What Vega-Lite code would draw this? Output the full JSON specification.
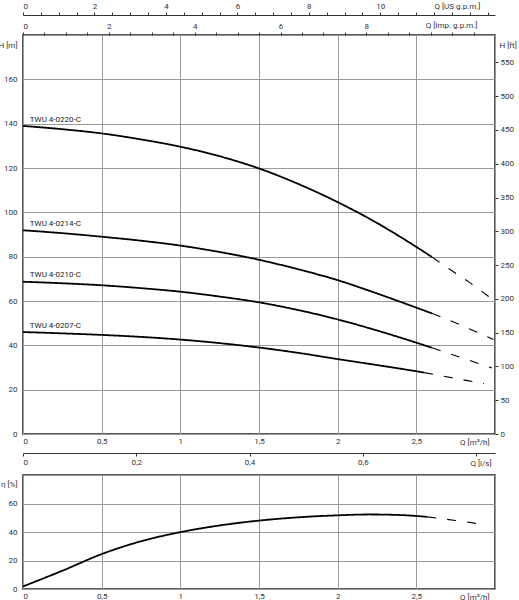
{
  "$schema": "https://vega.github.io/schema/vega-lite/v6.json",
  "description": "Pump curves TWU 4-02xx-C: head and efficiency against flow, with secondary unit axes.",
  "padding": {"left": -3, "top": 1, "right": 0, "bottom": 0},
  "spacing": 6,
  "datasets": {
    "head": [
      {"model": "TWU 4-0220-C", "part": "solid", "Q": 0, "H": 139.0},
      {"model": "TWU 4-0220-C", "part": "solid", "Q": 0.25, "H": 137.5},
      {"model": "TWU 4-0220-C", "part": "solid", "Q": 0.5, "H": 135.6},
      {"model": "TWU 4-0220-C", "part": "solid", "Q": 0.75, "H": 132.9},
      {"model": "TWU 4-0220-C", "part": "solid", "Q": 1.0, "H": 129.6},
      {"model": "TWU 4-0220-C", "part": "solid", "Q": 1.25, "H": 125.3},
      {"model": "TWU 4-0220-C", "part": "solid", "Q": 1.5, "H": 119.8},
      {"model": "TWU 4-0220-C", "part": "solid", "Q": 1.75, "H": 112.8},
      {"model": "TWU 4-0220-C", "part": "solid", "Q": 2.0, "H": 104.6},
      {"model": "TWU 4-0220-C", "part": "solid", "Q": 2.25, "H": 95.2},
      {"model": "TWU 4-0220-C", "part": "solid", "Q": 2.5, "H": 84.4},
      {"model": "TWU 4-0220-C", "part": "solid", "Q": 2.6, "H": 79.8},
      {"model": "TWU 4-0220-C", "part": "dashed", "Q": 2.6, "H": 79.8},
      {"model": "TWU 4-0220-C", "part": "dashed", "Q": 2.7, "H": 74.9},
      {"model": "TWU 4-0220-C", "part": "dashed", "Q": 2.835, "H": 68.5},
      {"model": "TWU 4-0220-C", "part": "dashed", "Q": 2.99, "H": 60.4},
      {"model": "TWU 4-0214-C", "part": "solid", "Q": 0, "H": 91.9},
      {"model": "TWU 4-0214-C", "part": "solid", "Q": 0.25, "H": 90.6},
      {"model": "TWU 4-0214-C", "part": "solid", "Q": 0.5, "H": 89.0},
      {"model": "TWU 4-0214-C", "part": "solid", "Q": 0.75, "H": 87.2},
      {"model": "TWU 4-0214-C", "part": "solid", "Q": 1.0, "H": 85.0},
      {"model": "TWU 4-0214-C", "part": "solid", "Q": 1.25, "H": 82.1},
      {"model": "TWU 4-0214-C", "part": "solid", "Q": 1.5, "H": 78.6},
      {"model": "TWU 4-0214-C", "part": "solid", "Q": 1.75, "H": 74.3},
      {"model": "TWU 4-0214-C", "part": "solid", "Q": 2.0, "H": 69.4},
      {"model": "TWU 4-0214-C", "part": "solid", "Q": 2.25, "H": 63.4},
      {"model": "TWU 4-0214-C", "part": "solid", "Q": 2.5, "H": 57.0},
      {"model": "TWU 4-0214-C", "part": "solid", "Q": 2.6, "H": 54.4},
      {"model": "TWU 4-0214-C", "part": "dashed", "Q": 2.6, "H": 54.4},
      {"model": "TWU 4-0214-C", "part": "dashed", "Q": 2.8, "H": 48.6},
      {"model": "TWU 4-0214-C", "part": "dashed", "Q": 2.99, "H": 42.6},
      {"model": "TWU 4-0210-C", "part": "solid", "Q": 0, "H": 68.7},
      {"model": "TWU 4-0210-C", "part": "solid", "Q": 0.25, "H": 68.0},
      {"model": "TWU 4-0210-C", "part": "solid", "Q": 0.5, "H": 67.1},
      {"model": "TWU 4-0210-C", "part": "solid", "Q": 0.75, "H": 65.8},
      {"model": "TWU 4-0210-C", "part": "solid", "Q": 1.0, "H": 64.2},
      {"model": "TWU 4-0210-C", "part": "solid", "Q": 1.25, "H": 62.0},
      {"model": "TWU 4-0210-C", "part": "solid", "Q": 1.5, "H": 59.4},
      {"model": "TWU 4-0210-C", "part": "solid", "Q": 1.75, "H": 55.9},
      {"model": "TWU 4-0210-C", "part": "solid", "Q": 2.0, "H": 51.7},
      {"model": "TWU 4-0210-C", "part": "solid", "Q": 2.25, "H": 46.7},
      {"model": "TWU 4-0210-C", "part": "solid", "Q": 2.5, "H": 41.2},
      {"model": "TWU 4-0210-C", "part": "solid", "Q": 2.6, "H": 38.9},
      {"model": "TWU 4-0210-C", "part": "dashed", "Q": 2.6, "H": 38.9},
      {"model": "TWU 4-0210-C", "part": "dashed", "Q": 2.8, "H": 34.1},
      {"model": "TWU 4-0210-C", "part": "dashed", "Q": 2.98, "H": 29.8},
      {"model": "TWU 4-0207-C", "part": "solid", "Q": 0, "H": 46.0},
      {"model": "TWU 4-0207-C", "part": "solid", "Q": 0.25, "H": 45.4},
      {"model": "TWU 4-0207-C", "part": "solid", "Q": 0.5, "H": 44.7},
      {"model": "TWU 4-0207-C", "part": "solid", "Q": 0.75, "H": 43.8},
      {"model": "TWU 4-0207-C", "part": "solid", "Q": 1.0, "H": 42.6},
      {"model": "TWU 4-0207-C", "part": "solid", "Q": 1.25, "H": 41.0},
      {"model": "TWU 4-0207-C", "part": "solid", "Q": 1.5, "H": 39.0},
      {"model": "TWU 4-0207-C", "part": "solid", "Q": 1.75, "H": 36.6},
      {"model": "TWU 4-0207-C", "part": "solid", "Q": 2.0, "H": 33.8},
      {"model": "TWU 4-0207-C", "part": "solid", "Q": 2.25, "H": 31.1},
      {"model": "TWU 4-0207-C", "part": "solid", "Q": 2.5, "H": 28.3},
      {"model": "TWU 4-0207-C", "part": "solid", "Q": 2.55, "H": 27.7},
      {"model": "TWU 4-0207-C", "part": "dashed", "Q": 2.55, "H": 27.7},
      {"model": "TWU 4-0207-C", "part": "dashed", "Q": 2.74, "H": 25.2},
      {"model": "TWU 4-0207-C", "part": "dashed", "Q": 2.93, "H": 22.7}
    ],
    "labels": [
      {"model": "TWU 4-0220-C", "Q": 0.043, "H": 141.5},
      {"model": "TWU 4-0214-C", "Q": 0.043, "H": 94.8},
      {"model": "TWU 4-0210-C", "Q": 0.043, "H": 71.7},
      {"model": "TWU 4-0207-C", "Q": 0.043, "H": 48.7}
    ],
    "eff": [
      {"part": "solid", "Q": 0, "eta": 1.8},
      {"part": "solid", "Q": 0.25, "eta": 12.8},
      {"part": "solid", "Q": 0.5, "eta": 24.5},
      {"part": "solid", "Q": 0.75, "eta": 33.5},
      {"part": "solid", "Q": 1.0, "eta": 39.9},
      {"part": "solid", "Q": 1.25, "eta": 44.6},
      {"part": "solid", "Q": 1.5, "eta": 48.0},
      {"part": "solid", "Q": 1.75, "eta": 50.3},
      {"part": "solid", "Q": 2.0, "eta": 51.7},
      {"part": "solid", "Q": 2.2, "eta": 52.3},
      {"part": "solid", "Q": 2.4, "eta": 51.9},
      {"part": "solid", "Q": 2.57, "eta": 50.6},
      {"part": "dashed", "Q": 2.57, "eta": 50.6},
      {"part": "dashed", "Q": 2.75, "eta": 48.1},
      {"part": "dashed", "Q": 2.93, "eta": 45.2}
    ],
    "units": [
      {"Q_imp": 0, "Q_us": 0, "Q_ls": 0, "H_ft": 0}
    ]
  },
  "vconcat": [
    {
      "width": 472,
      "height": 399,
      "layer": [
        {
          "data": {"name": "head"},
          "mark": {"type": "line", "color": "black", "interpolate": "monotone"},
          "encoding": {
            "x": {
              "field": "Q",
              "type": "quantitative",
              "scale": {"domain": [0, 3], "nice": false},
              "axis": {
                "orient": "bottom",
                "grid": true,
                "values": [0, 0.5, 1, 1.5, 2, 2.5, 3],
                "format": "~g",
                "labelExpr": "datum.value > 2.9 ? '' : replace(datum.label, '.', ',')",
                "labelPadding": 3,
                "title": "Q [m³/h]",
                "titleX": 466,
                "titleY": 8,
                "titleAlign": "right",
                "titleBaseline": "middle"
              }
            },
            "y": {
              "field": "H",
              "type": "quantitative",
              "scale": {"domain": [0, 180], "nice": false},
              "axis": {
                "orient": "left",
                "grid": true,
                "values": [0, 20, 40, 60, 80, 100, 120, 140, 160, 180],
                "labelExpr": "datum.value > 170 ? '' : datum.label",
                "labelPadding": 6,
                "title": "H [m]",
                "titleAngle": 0,
                "titleX": -6,
                "titleY": 10,
                "titleAlign": "right",
                "titleBaseline": "middle"
              }
            },
            "detail": {"field": "model"},
            "strokeDash": {
              "field": "part",
              "type": "nominal",
              "scale": {"domain": ["solid", "dashed"], "range": [[1, 0], [9, 11]]},
              "legend": null
            },
            "strokeWidth": {
              "field": "part",
              "type": "nominal",
              "scale": {"domain": ["solid", "dashed"], "range": [1.8, 1.1]},
              "legend": null
            }
          }
        },
        {
          "data": {"name": "labels"},
          "mark": {"type": "text", "align": "left", "baseline": "middle", "font": "Roboto", "fontSize": 8, "color": "#222"},
          "encoding": {
            "x": {"field": "Q", "type": "quantitative", "scale": {"domain": [0, 3], "nice": false}, "axis": null},
            "y": {"field": "H", "type": "quantitative", "scale": {"domain": [0, 180], "nice": false}, "axis": null},
            "text": {"field": "model"}
          }
        },
        {
          "data": {"name": "units"},
          "mark": {"type": "point", "opacity": 0},
          "encoding": {
            "x": {"field": "Q_ls", "type": "quantitative", "scale": {"domain": [0, 1], "nice": false}, "axis": null},
            "y": {
              "field": "H_ft",
              "type": "quantitative",
              "scale": {"domain": [0, 590.55], "nice": false},
              "axis": {
                "orient": "right",
                "grid": false,
                "ticks": true,
                "tickSize": 3,
                "values": [0, 50, 100, 150, 200, 250, 300, 350, 400, 450, 500, 550],
                "labelPadding": 2,
                "title": "H [ft]",
                "titleAngle": 0,
                "titleX": 4,
                "titleY": 10,
                "titleAlign": "left",
                "titleBaseline": "middle"
              }
            }
          }
        },
        {
          "data": {"name": "units"},
          "mark": {"type": "point", "opacity": 0},
          "encoding": {
            "x": {
              "field": "Q_imp",
              "type": "quantitative",
              "scale": {"domain": [0, 10.998], "nice": false},
              "axis": {
                "orient": "top",
                "grid": false,
                "ticks": true,
                "tickSize": 3,
                "values": [0, 0.5, 1, 1.5, 2, 2.5, 3, 3.5, 4, 4.5, 5, 5.5, 6, 6.5, 7, 7.5, 8, 8.5, 9, 9.5, 10, 10.5],
                "format": "~g",
                "labelExpr": "datum.value % 2 == 0 && datum.value < 9 ? datum.label : ''",
                "labelPadding": 2,
                "title": "Q [Imp. g.p.m.]",
                "titleX": 454,
                "titleY": -10,
                "titleAlign": "right",
                "titleBaseline": "middle"
              }
            },
            "y": {"field": "H_ft", "type": "quantitative", "scale": {"domain": [0, 1], "nice": false}, "axis": null}
          }
        },
        {
          "data": {"name": "units"},
          "mark": {"type": "point", "opacity": 0},
          "encoding": {
            "x": {
              "field": "Q_us",
              "type": "quantitative",
              "scale": {"domain": [0, 13.209], "nice": false},
              "axis": {
                "orient": "top",
                "offset": 20,
                "domain": true,
                "domainColor": "#333",
                "grid": false,
                "ticks": true,
                "tickSize": 3,
                "values": [0, 0.5, 1, 1.5, 2, 2.5, 3, 3.5, 4, 4.5, 5, 5.5, 6, 6.5, 7, 7.5, 8, 8.5, 9, 9.5, 10, 10.5, 11, 11.5, 12, 12.5, 13],
                "format": "~g",
                "labelExpr": "datum.value % 2 == 0 && datum.value < 11 ? datum.label : ''",
                "labelPadding": 2,
                "title": "Q [US g.p.m.]",
                "titleX": 457,
                "titleY": -9,
                "titleAlign": "right",
                "titleBaseline": "middle"
              }
            },
            "y": {"field": "H_ft", "type": "quantitative", "scale": {"domain": [0, 1], "nice": false}, "axis": null}
          }
        },
        {
          "data": {"name": "units"},
          "mark": {"type": "point", "opacity": 0},
          "encoding": {
            "x": {
              "field": "Q_ls",
              "type": "quantitative",
              "scale": {"domain": [0, 0.8333], "nice": false},
              "axis": {
                "orient": "bottom",
                "offset": 19,
                "domain": true,
                "domainColor": "#333",
                "grid": false,
                "ticks": true,
                "tickSize": 3,
                "values": [0, 0.2, 0.4, 0.6, 0.8],
                "format": "~g",
                "labelExpr": "datum.value > 0.7 ? '' : replace(datum.label, '.', ',')",
                "labelPadding": 2,
                "title": "Q [l/s]",
                "titleX": 468,
                "titleY": 10,
                "titleAlign": "right",
                "titleBaseline": "middle"
              }
            },
            "y": {"field": "H_ft", "type": "quantitative", "scale": {"domain": [0, 1], "nice": false}, "axis": null}
          }
        }
      ],
      "resolve": {
        "scale": {"x": "independent", "y": "independent"},
        "axis": {"x": "independent", "y": "independent"}
      }
    },
    {
      "width": 472,
      "height": 114,
      "data": {"name": "eff"},
      "mark": {"type": "line", "color": "black", "interpolate": "monotone"},
      "encoding": {
        "x": {
          "field": "Q",
          "type": "quantitative",
          "scale": {"domain": [0, 3], "nice": false},
          "axis": {
            "orient": "bottom",
            "grid": true,
            "values": [0, 0.5, 1, 1.5, 2, 2.5, 3],
            "format": "~g",
            "labelExpr": "datum.value > 2.9 ? '' : replace(datum.label, '.', ',')",
            "labelPadding": 3,
            "title": "Q [m³/h]",
            "titleX": 466,
            "titleY": 8,
            "titleAlign": "right",
            "titleBaseline": "middle"
          }
        },
        "y": {
          "field": "eta",
          "type": "quantitative",
          "scale": {"domain": [0, 80], "nice": false},
          "axis": {
            "orient": "left",
            "grid": true,
            "values": [0, 20, 40, 60, 80],
            "labelExpr": "datum.value > 70 ? '' : datum.label",
            "labelPadding": 6,
            "title": "η [%]",
            "titleAngle": 0,
            "titleX": -6,
            "titleY": 9,
            "titleAlign": "right",
            "titleBaseline": "middle"
          }
        },
        "strokeDash": {
          "field": "part",
          "type": "nominal",
          "scale": {"domain": ["solid", "dashed"], "range": [[1, 0], [9, 11]]},
          "legend": null
        },
        "strokeWidth": {
          "field": "part",
          "type": "nominal",
          "scale": {"domain": ["solid", "dashed"], "range": [1.8, 1.1]},
          "legend": null
        }
      }
    }
  ],
  "config": {
    "background": "#ffffff",
    "view": {"stroke": "#222", "strokeWidth": 1.5},
    "axis": {
      "labelFont": "Roboto",
      "labelFontSize": 8,
      "labelColor": "#333",
      "titleFont": "Roboto",
      "titleFontSize": 8,
      "titleFontWeight": "normal",
      "titleColor": "#333",
      "gridColor": "#9a9a9a",
      "gridWidth": 1,
      "domain": false,
      "ticks": false,
      "tickColor": "#333"
    }
  }
}
